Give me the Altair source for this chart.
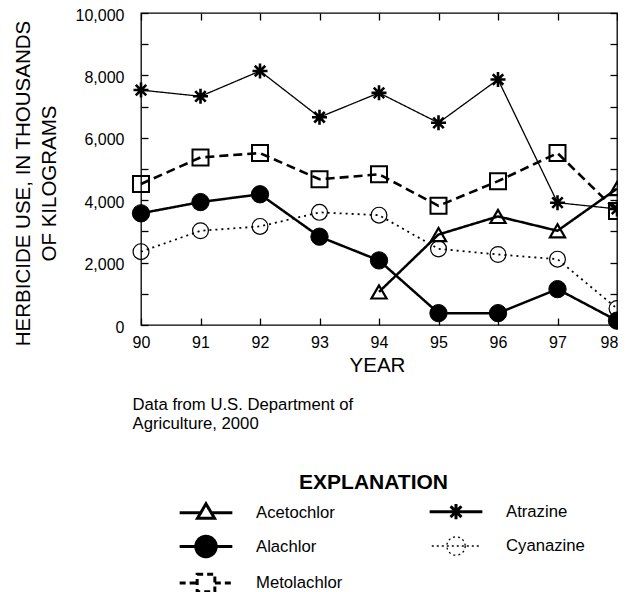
import altair as alt
import pandas as pd

# ---- data (thousands of kilograms) ----
years = [90, 91, 92, 93, 94, 95, 96, 97, 98]
atrazine = [7530, 7330, 8140, 6660, 7440, 6480, 7870, 3920, 3720]
metolachlor = [4520, 5370, 5510, 4670, 4830, 3820, 4610, 5510, 3650]
alachlor = [3580, 3940, 4190, 2830, 2070, 380, 380, 1150, 140]
cyanazine = [2350, 3020, 3160, 3610, 3520, 2440, 2260, 2110, 530]
acetochlor_years = [94, 95, 96, 97, 98]
acetochlor = [1060, 2900, 3480, 3020, 4370]

# order used by the legend (filled column by column)
series_order = ["Acetochlor", "Alachlor", "Metolachlor", "Atrazine", "Cyanazine"]
y_tick_values = [0, 1000, 2000, 3000, 4000, 5000, 6000, 7000, 8000, 9000, 10000]
y_label_values = [0, 2000, 4000, 6000, 8000, 10000]
y_title = ["HERBICIDE USE, IN THOUSANDS", "OF KILOGRAMS"]
x_title = "YEAR"
note = ["Data from U.S. Department of", "Agriculture, 2000"]
legend_title = "EXPLANATION"

rows = []
for name, xs_, vs_ in [
    ("Acetochlor", acetochlor_years, acetochlor),
    ("Atrazine", years, atrazine),
    ("Alachlor", years, alachlor),
    ("Cyanazine", years, cyanazine),
    ("Metolachlor", years, metolachlor),
]:
    for x, v in zip(xs_, vs_):
        rows.append({"year": x, "herbicide": name, "value": v})
df = pd.DataFrame(rows)

# ---- styling ----
FONT = "Liberation Sans"
W, H = 476, 312


def by_series(values, **kw):
    lookup = dict(zip(["Acetochlor", "Atrazine", "Alachlor", "Cyanazine", "Metolachlor"], values))
    return alt.Scale(domain=series_order, range=[lookup[s] for s in series_order], **kw)


xs = alt.Scale(domain=[90, 98], nice=False, zero=False)
ys = alt.Scale(domain=[0, 10000], nice=False, zero=True)

#                 Acetochlor  Atrazine  Alachlor  Cyanazine  Metolachlor
line_dash = by_series([[1, 0], [1, 0], [1, 0], [2, 4], [9, 5]])
line_width = by_series([2.5, 1.3, 2.5, 1.8, 2.6], type="ordinal")

ASTER = "M0,-1V1M-1,0H1M-0.7,-0.7L0.7,0.7M-0.7,0.7L0.7,-0.7"
pt_shape = by_series(["triangle-up", ASTER, "circle", "circle", "square"])
pt_fill = by_series(["transparent", "black", "black", "transparent", "transparent"])
pt_stroke = by_series(["black"] * 5)
pt_size = by_series([230, 225, 300, 250, 256], type="ordinal")
pt_width = by_series([2.2, 2.6, 1, 1.2, 2], type="ordinal")

# legend key symbols: marker plus the line segments, unit coordinates
LEG_TRI = "M0,-1.05L1,0.65L-1,0.65ZM-3.1,0H-0.62M0.62,0H3.1"
LEG_AST = "M0,-0.9V0.9M-0.9,0H0.9M-0.64,-0.64L0.64,0.64M-0.64,0.64L0.64,-0.64M-3.1,0H3.1"
LEG_DOT = "M1.2,0A1.2,1.2,0,1,1,-1.2,0A1.2,1.2,0,1,1,1.2,0ZM-3.1,0H-1.2M1.2,0H3.1"
LEG_OPEN = "M1.08,0A1.08,1.08,0,1,1,-1.08,0A1.08,1.08,0,1,1,1.08,0ZM-2.85,0H2.85"
LEG_SQ = "M-1.04,-1.04H1.04V1.04H-1.04ZM-3.1,0H-1.04M1.04,0H3.1"
leg_shape = by_series([LEG_TRI, LEG_AST, LEG_DOT, LEG_OPEN, LEG_SQ])
leg_dash = by_series([[1, 0], [1, 0], [1, 0], [2, 3], [6, 4]])
leg_width = by_series([3, 3, 3, 1.3, 3], type="ordinal")


def tick_axis(orient, offset, values):
    return alt.Axis(orient=orient, offset=offset, values=values, labels=False,
                    ticks=True, tickSize=7, tickWidth=1.3, tickColor="black",
                    domain=False, grid=False, title=None)


def year_label_axis(values, **kw):
    return alt.Axis(orient="bottom", values=values, labelExpr="format(datum.value, 'd')",
                    ticks=False, tickSize=0, domain=False, grid=False, labelFont=FONT,
                    labelFontSize=16, labelColor="black", labelPadding=9.6,
                    labelFlush=False, **kw)


base = alt.Chart(df)

lines = base.mark_line(color="black").encode(
    x=alt.X("year:Q", scale=xs, axis=year_label_axis(
        years[:-1],
        title=x_title, titleFont=FONT, titleFontSize=20.5, titleFontWeight="normal",
        titleColor="black", titleX=W / 2 - 2, titleY=30, titleBaseline="top",
        titleAlign="center")),
    y=alt.Y("value:Q", scale=ys, axis=alt.Axis(
        orient="left", values=y_label_values, labelExpr="format(datum.value, ',')",
        ticks=False, tickSize=0, domain=False, grid=False, labelFont=FONT,
        labelFontSize=16, labelColor="black", labelPadding=17, labelOffset=2,
        labelFlush=False,
        title=y_title, titleFont=FONT, titleFontSize=20.5, titleFontWeight="normal",
        titleColor="black", titleX=-127.5, titleY=170, titleBaseline="top",
        titleAlign="center", titleLineHeight=26)),
    strokeDash=alt.StrokeDash("herbicide:N", scale=line_dash, legend=None),
    strokeWidth=alt.StrokeWidth("herbicide:N", scale=line_width, legend=None),
)

points = base.mark_point(opacity=1, stroke="black").encode(
    x=alt.X("year:Q", scale=xs, axis=tick_axis("top", -H, years)),
    y=alt.Y("value:Q", scale=ys, axis=tick_axis("right", -W, y_tick_values)),
    shape=alt.Shape("herbicide:N", scale=pt_shape, legend=None),
    fill=alt.Fill("herbicide:N", scale=pt_fill, legend=None),
    size=alt.Size("herbicide:N", scale=pt_size, legend=None),
    strokeWidth=alt.StrokeWidth("herbicide:N", scale=pt_width, legend=None),
)

leg = alt.Legend(title=None, orient="none", legendX=55, legendY=487, columns=2,
                 gridAlign="all",
                 symbolSize=289, symbolStrokeColor="black", symbolOpacity=1,
                 labelFont=FONT, labelFontSize=16.7, labelColor="black",
                 labelOffset=40, columnPadding=80, rowPadding=2.5,
                 padding=0, labelLimit=300)

legend_layer = base.transform_filter("datum.value < 0").mark_point(opacity=1).encode(
    x=alt.X("year:Q", scale=xs, axis=tick_axis("bottom", -H, years)),
    y=alt.Y("value:Q", scale=ys, axis=tick_axis("left", -W, y_tick_values)),
    shape=alt.Shape("herbicide:N", scale=leg_shape, legend=leg),
    fill=alt.Fill("herbicide:N", scale=pt_fill, legend=leg),
    stroke=alt.Stroke("herbicide:N", scale=pt_stroke, legend=leg),
    strokeDash=alt.StrokeDash("herbicide:N", scale=leg_dash, legend=leg),
    strokeWidth=alt.StrokeWidth("herbicide:N", scale=leg_width, legend=leg),
)

# the last year label is kept just inside the picture's right edge
note_layer = base.transform_filter("datum.value < 0").mark_point(opacity=1).encode(
    x=alt.X("year:Q", scale=xs, axis=year_label_axis(
        years[-1:], labelOffset=-8,
        title=note, titleFont=FONT, titleFontSize=16.7, titleFontWeight="normal",
        titleColor="black", titleX=-9, titleY=71.8, titleAlign="left",
        titleBaseline="top", titleLineHeight=19)),
    y=alt.Y("value:Q", scale=ys, axis=alt.Axis(
        orient="left", labels=False, ticks=False, domain=False, grid=False,
        title=legend_title, titleFont=FONT, titleFontSize=21, titleFontWeight="bold",
        titleColor="black", titleAngle=0, titleX=232, titleY=458,
        titleAlign="center", titleBaseline="top")),
)

chart = alt.layer(lines, points, legend_layer, note_layer).resolve_scale(
    shape="independent", fill="independent", strokeDash="independent",
    strokeWidth="independent", size="independent", stroke="independent",
).resolve_axis(x="independent", y="independent").properties(
    width=W, height=H,
    autosize=alt.AutoSizeParams(type="none"),
    padding={"left": 133, "top": 5, "right": 1, "bottom": 273},
).configure(font=FONT).configure_view(stroke="black", strokeWidth=1.3)

chart.save("out.html", embed_options={"renderer": "svg", "actions": False})
